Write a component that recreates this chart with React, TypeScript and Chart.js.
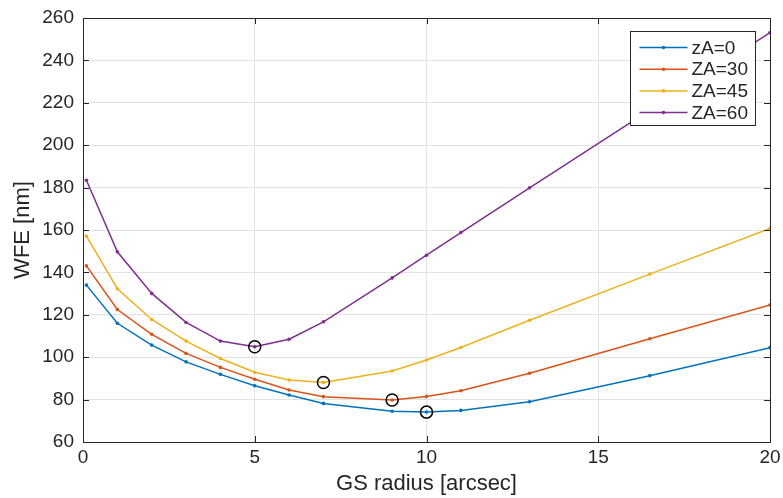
import React, { useEffect, useRef } from 'react';
import { Chart, registerables } from 'chart.js';
Chart.register(...registerables);

const radius = [0.1, 1, 2, 3, 4, 5, 6, 7, 9, 10, 11, 13, 16.5, 20];
const za0 = [134.0, 116.0, 105.7, 97.8, 91.9, 86.5, 82.2, 78.2, 74.5, 74.1, 74.9, 79.0, 91.3, 104.5];
const za30 = [143.1, 122.5, 110.8, 101.8, 95.2, 89.6, 84.5, 81.4, 79.8, 81.5, 84.2, 92.4, 108.7, 124.6];
const za45 = [157.1, 132.3, 117.8, 107.6, 99.4, 92.9, 89.2, 88.1, 93.5, 98.7, 104.6, 117.4, 139.2, 160.7];
const za60 = [183.5, 149.7, 130.1, 116.4, 107.6, 104.9, 108.5, 116.7, 137.4, 148.1, 158.8, 179.9, 216.5, 253.1];
const minX = [5, 7, 9, 10];
const minY = [104.9, 88.1, 79.8, 74.1];
const seriesLabels = ['zA=0', 'ZA=30', 'ZA=45', 'ZA=60'];
const seriesColors = ['#0072BD', '#D95319', '#EDB120', '#7E2F8E'];
const xTickValues = [0, 5, 10, 15, 20];
const yTickValues = [60, 80, 100, 120, 140, 160, 180, 200, 220, 240, 260];

const FONT = '"Liberation Sans", Arial, Helvetica, sans-serif';
const AXIS = '#262626';

export default function App() {
  const ref = useRef<HTMLCanvasElement>(null);
  useEffect(() => {
    document.body.style.margin = '0';
    const series = [za0, za30, za45, za60];
    const lineSets = series.map((vals, i) => ({
      label: seriesLabels[i],
      data: radius.map((x, j) => ({ x, y: vals[j] })),
      borderColor: seriesColors[i],
      backgroundColor: seriesColors[i],
      borderWidth: 1.5,
      pointRadius: 1.8,
      pointBorderWidth: 0,
      pointBackgroundColor: seriesColors[i],
      showLine: true,
      tension: 0,
    }));
    const circleSet = {
      label: 'min',
      data: minX.map((x, i) => ({ x, y: minY[i] })),
      showLine: false,
      pointRadius: 6,
      pointBorderWidth: 1.5,
      pointBorderColor: '#000000',
      pointBackgroundColor: 'rgba(0,0,0,0)',
      borderColor: '#000000',
      backgroundColor: 'rgba(0,0,0,0)',
    };

    const framePlugin = {
      id: 'frame',
      afterDraw(chart: any) {
        const { ctx, chartArea } = chart;
        const { left, right, top, bottom } = chartArea;
        const xs = chart.scales.x;
        const ys = chart.scales.y;
        ctx.save();
        ctx.strokeStyle = AXIS;
        ctx.lineWidth = 1;
        ctx.strokeRect(Math.round(left) + 0.5, Math.round(top) + 0.5, Math.round(right - left), Math.round(bottom - top));
        const tl = 6;
        ctx.beginPath();
        xTickValues.forEach((v) => {
          const px = Math.round(xs.getPixelForValue(v)) + 0.5;
          ctx.moveTo(px, bottom);
          ctx.lineTo(px, bottom - tl);
          ctx.moveTo(px, top);
          ctx.lineTo(px, top + tl);
        });
        yTickValues.forEach((v) => {
          const py = Math.round(ys.getPixelForValue(v)) + 0.5;
          ctx.moveTo(left, py);
          ctx.lineTo(left + tl, py);
          ctx.moveTo(right, py);
          ctx.lineTo(right - tl, py);
        });
        ctx.stroke();

        // legend
        const bw = 125;
        const bh = 94;
        const bx = Math.round(right - 15 - bw) + 0.5;
        const by = Math.round(top + 13) + 0.5;
        ctx.fillStyle = '#ffffff';
        ctx.fillRect(bx, by, bw, bh);
        ctx.strokeStyle = AXIS;
        ctx.lineWidth = 1;
        ctx.strokeRect(bx, by, bw, bh);
        ctx.font = '19px ' + FONT;
        ctx.textBaseline = 'middle';
        ctx.textAlign = 'left';
        seriesLabels.forEach((lab, i) => {
          const cy = by + 16 + i * 21.7;
          ctx.strokeStyle = seriesColors[i];
          ctx.lineWidth = 1.5;
          ctx.beginPath();
          ctx.moveTo(bx + 9, cy);
          ctx.lineTo(bx + 57, cy);
          ctx.stroke();
          ctx.fillStyle = seriesColors[i];
          ctx.beginPath();
          ctx.arc(bx + 33, cy, 1.8, 0, Math.PI * 2);
          ctx.fill();
          ctx.fillStyle = AXIS;
          ctx.fillText(lab, bx + 61, cy + 1);
        });
        ctx.restore();
      },
    };

    const chart = new Chart(ref.current as HTMLCanvasElement, {
      type: 'scatter',
      data: { datasets: [circleSet as any, ...lineSets] },
      options: {
        responsive: false,
        animation: false,
        layout: { padding: { left: 0, top: 18, right: 13, bottom: 0 } },
        plugins: { legend: { display: false }, tooltip: { enabled: false } },
        scales: {
          x: {
            type: 'linear',
            min: 0,
            max: 20,
            afterFit: (s: any) => { s.height = 56; s.paddingLeft = 0; s.paddingRight = 0; },
            afterBuildTicks: (s: any) => { s.ticks = xTickValues.map((v) => ({ value: v })); },
            ticks: { color: AXIS, font: { family: FONT, size: 19 }, padding: 4, maxRotation: 0 },
            grid: { color: '#e3e3e3', lineWidth: 1, drawTicks: false },
            border: { display: false },
            title: { display: true, text: 'GS radius [arcsec]', color: AXIS, font: { family: FONT, size: 22 }, padding: { top: 0, bottom: 1 } },
          },
          y: {
            type: 'linear',
            min: 60,
            max: 260,
            afterFit: (s: any) => { s.width = 83; s.paddingTop = 0; s.paddingBottom = 0; },
            afterBuildTicks: (s: any) => { s.ticks = yTickValues.map((v) => ({ value: v })); },
            ticks: { color: AXIS, font: { family: FONT, size: 19 }, padding: 9 },
            grid: { color: '#e3e3e3', lineWidth: 1, drawTicks: false },
            border: { display: false },
            title: { display: true, text: 'WFE [nm]', color: AXIS, font: { family: FONT, size: 22 }, padding: { top: 10, bottom: 0 } },
          },
        },
      },
      plugins: [framePlugin],
    });
    return () => chart.destroy();
  }, []);
  return <canvas ref={ref} width={783} height={498} style={{ display: 'block' }} />;
}
